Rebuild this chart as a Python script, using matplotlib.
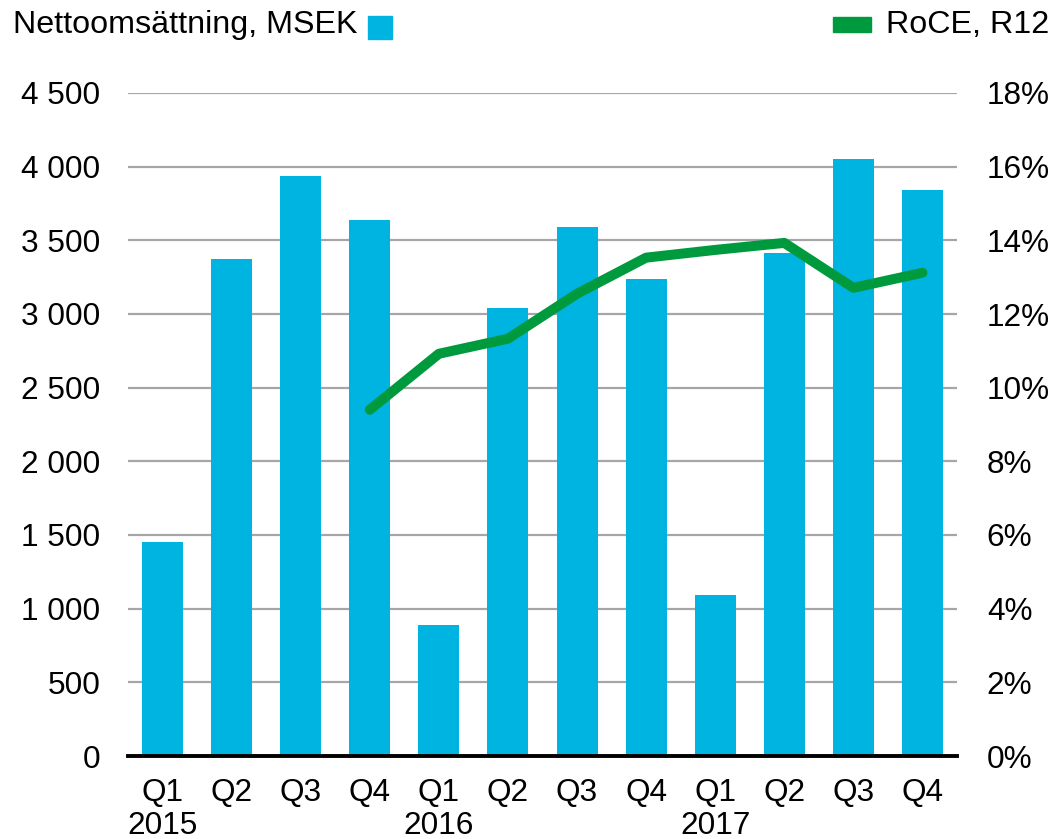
import matplotlib
matplotlib.use("Agg")
import matplotlib.pyplot as plt
import matplotlib.transforms as mtransforms
from matplotlib.patches import Rectangle
import numpy as np

plt.rcParams['font.family'] = ['Liberation Sans', 'DejaVu Sans']

quarters = ["Q1", "Q2", "Q3", "Q4", "Q1", "Q2", "Q3", "Q4", "Q1", "Q2", "Q3", "Q4"]
years = ["2015", "", "", "", "2016", "", "", "", "2017", "", "", ""]
sales = [1455, 3375, 3935, 3640, 888, 3043, 3592, 3239, 1091, 3416, 4053, 3843]
roce_idx = [3, 4, 5, 6, 7, 8, 9, 10, 11]
roce = [9.4, 10.92, 11.33, 12.55, 13.53, 13.74, 13.93, 12.71, 13.12]
left_ticks = [0, 500, 1000, 1500, 2000, 2500, 3000, 3500, 4000, 4500]
left_labels = ["0", "500", "1 000", "1 500", "2 000", "2 500", "3 000", "3 500", "4 000", "4 500"]
right_ticks = [0, 2, 4, 6, 8, 10, 12, 14, 16, 18]
right_labels = [f"{t}%" for t in right_ticks]

blue = "#00B4E1"
green = "#009A3E"
fs = 22.7

fig = plt.figure(figsize=(10.56, 8.39), dpi=100)
ax = fig.add_axes([128/1056, 1 - 756/839, (957-128)/1056, (756-93)/839])
x = np.arange(len(sales))
ax.bar(x, sales, width=0.594, color=blue, zorder=2)
ax.set_xlim(-0.5, 11.5)
ax.set_ylim(0, 4500)
ax.set_yticks(left_ticks)
ax.set_yticklabels(left_labels, fontsize=fs)
ax.set_xticks(x)
ax.set_xticklabels(quarters, fontsize=fs)
ax.yaxis.grid(True, color="#A6A6A6", linewidth=1.6, zorder=0)
ax.set_axisbelow(True)
for s in ["left", "right", "top"]:
    ax.spines[s].set_visible(False)
ax.spines["bottom"].set_color("black")
ax.spines["bottom"].set_linewidth(2.8)
ax.tick_params(axis="x", length=0, pad=15.5)
ax.tick_params(axis="y", length=0, pad=20)

trans = mtransforms.blended_transform_factory(ax.transData, fig.transFigure)
for xi, yr in zip(x, years):
    if yr:
        ax.text(xi, 1 - 834/839, yr, transform=trans, fontsize=fs, ha="center", va="baseline")

ax2 = ax.twinx()
ax2.plot(roce_idx, roce, color=green, linewidth=7.2, solid_capstyle="round", solid_joinstyle="round", zorder=3)
ax2.set_ylim(0, 18)
ax2.set_yticks(right_ticks)
ax2.set_yticklabels(right_labels, fontsize=fs)
for s in ["left", "right", "top", "bottom"]:
    ax2.spines[s].set_visible(False)
ax2.tick_params(axis="y", length=0, pad=21.5)

fig.text(13/1056, 1 - 25/839, "Nettoomsättning, MSEK", fontsize=23.2, va="center", ha="left")
fig.patches.append(Rectangle((368/1056, 1 - 39/839), 24/1056, 23/839, transform=fig.transFigure, color=blue, figure=fig))
fig.patches.append(Rectangle((833/1056, 1 - 32/839), 38/1056, 15/839, transform=fig.transFigure, color=green, figure=fig))
fig.text(1049/1056, 1 - 25/839, "RoCE, R12", fontsize=23.2, va="center", ha="right")

fig.savefig("out.png", dpi=100)
